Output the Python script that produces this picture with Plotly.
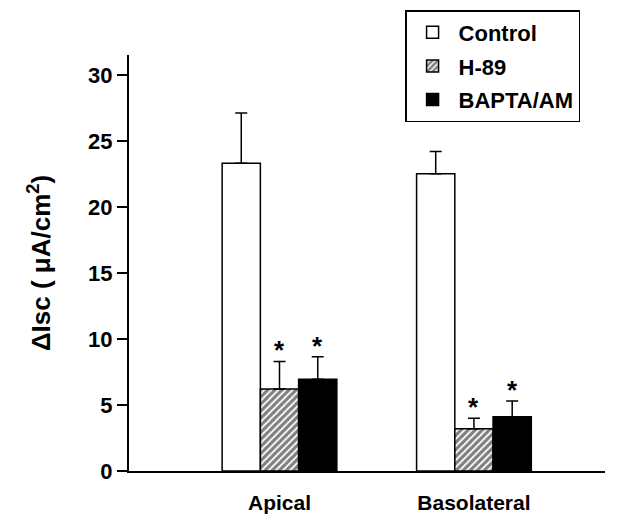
import plotly.graph_objects as go

categories = ["Apical", "Basolateral"]
series_names = ["Control", "H-89", "BAPTA/AM"]
control_vals = [23.3, 22.5]
control_err = [3.8, 1.7]
h89_vals = [6.2, 3.2]
h89_err = [2.1, 0.8]
bapta_vals = [6.95, 4.1]
bapta_err = [1.7, 1.2]
stars = [[False, False], [True, True], [True, True]]
y_ticks = [0, 5, 10, 15, 20, 25, 30]

FONT = "Liberation Sans"
vals = [control_vals, h89_vals, bapta_vals]
errs = [control_err, h89_err, bapta_err]
bargap = 0.41

styles = [
    dict(color="white"),
    dict(color="white", pattern=dict(shape="/", fgcolor="black", bgcolor="white", size=5, solidity=0.65)),
    dict(color="black"),
]

fig = go.Figure()
for i, name in enumerate(series_names):
    fig.add_trace(go.Bar(
        x=categories, y=vals[i], name="<b>" + name + "</b>", legendgroup=name,
        marker=dict(**styles[i], line=dict(color="black", width=1.5)),
        error_y=dict(type="data", array=errs[i], arrayminus=[0] * len(errs[i]),
                     symmetric=False, color="black", thickness=1.5, width=6),
    ))

annotations = []
for i in range(3):
    for g in range(len(categories)):
        if stars[i][g]:
            annotations.append(dict(
                x=g + (i - 1) * (1 - bargap) / 3, y=vals[i][g] + errs[i][g],
                xref="x", yref="y", text="<b>*</b>", showarrow=False,
                yanchor="middle", yshift=11,
                font=dict(family=FONT, size=26, color="black"),
            ))

fig.update_layout(
    width=604, height=509,
    margin=dict(l=121, r=7, t=47, b=46, autoexpand=False),
    paper_bgcolor="white", plot_bgcolor="white",
    barmode="group", bargap=bargap, bargroupgap=0,
    font=dict(family=FONT, color="black"),
    showlegend=True,
    legend=dict(
        x=0.58, y=1.108, xanchor="left", yanchor="top",
        bordercolor="black", borderwidth=1.5, bgcolor="white",
        font=dict(family=FONT, size=22, color="black"),
        tracegroupgap=2, itemwidth=42,
    ),
    annotations=annotations,
)

fig.update_xaxes(
    range=[-0.774, 1.674], showline=True, linecolor="black", linewidth=2,
    ticks="", ticklabelstandoff=12, showgrid=False, zeroline=False, automargin=False,
    tickfont=dict(family=FONT, size=21, color="black"),
    tickvals=[0, 1], ticktext=["<b>" + c + "</b>" for c in categories],
)
fig.update_yaxes(
    range=[0, 31.5], showline=True, linecolor="black", linewidth=2,
    ticks="outside", ticklen=10, tickwidth=1.5, tickcolor="black",
    tickvals=y_ticks, ticktext=["<b>%d</b>" % v for v in y_ticks],
    showgrid=False, zeroline=False, automargin=False,
    tickfont=dict(family=FONT, size=22, color="black"),
    title=dict(text="<b>ΔIsc ( μA/cm<sup>2</sup>)</b>",
               font=dict(family=FONT, size=26, color="black"), standoff=30),
)

fig.write_html("out.html")
